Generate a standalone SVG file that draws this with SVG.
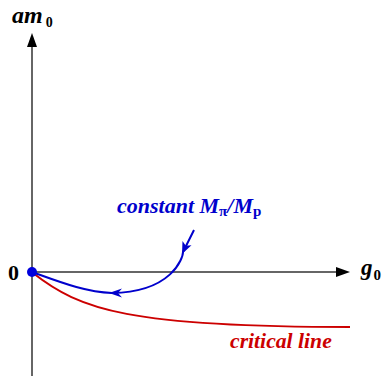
<svg xmlns="http://www.w3.org/2000/svg" width="385" height="376" viewBox="0 0 385 376">
<style>
.axis{stroke:#666;stroke-width:2;fill:none}
.ah{fill:#000}
.t{font-family:"Liberation Serif",serif;font-weight:bold}
.it{font-style:italic}
.blue{stroke:#0000cc;stroke-width:2;fill:none}
.red{stroke:#cc0000;stroke-width:2;fill:none}
</style>
<rect width="385" height="376" fill="#fff"/>
<g id="axes">
<line class="axis" x1="32" y1="376" x2="32" y2="44"/>
<polygon class="ah" points="32,33 27,47 37,47"/>
<line class="axis" x1="32" y1="272" x2="340" y2="272"/>
<polygon class="ah" points="350,272 336,267 336,277"/>
</g>
<g id="labels">
<text class="t" x="12" y="23" font-size="24"><tspan class="it">am</tspan><tspan font-size="14" dx="3" dy="4">0</tspan></text>
<text class="t" x="8" y="280" font-size="22">0</text>
<text class="t" x="361" y="275" font-size="23"><tspan class="it">g</tspan><tspan font-size="15" dx="1" dy="5">0</tspan></text>
</g>
<g id="critical-line">
<path class="red" d="M33,273 C80,310 130,327 350,327"/>
<text class="t it" x="230" y="348" font-size="21.7" fill="#cc0000">critical line</text>
</g>
<g id="constant-line">
<path class="blue" d="M194,230 L183,252 C183,258 172,292 112,293 C85,292 60,282 32,272"/>
<polygon fill="#0000cc" points="182,254 191.5,245.2 185.8,245.8 182.5,241"/>
<polygon fill="#0000cc" points="109,293 122,288.5 118,293 122,297.5"/>
<circle cx="32" cy="272" r="5" fill="#0000dd"/>
<text class="t it" x="117" y="213" font-size="22" fill="#0000cc">constant M<tspan font-style="normal" font-size="15" dy="3">π</tspan><tspan dy="-3">/M</tspan><tspan font-style="normal" font-size="15" dy="3">p</tspan></text>
</g>
</svg>
